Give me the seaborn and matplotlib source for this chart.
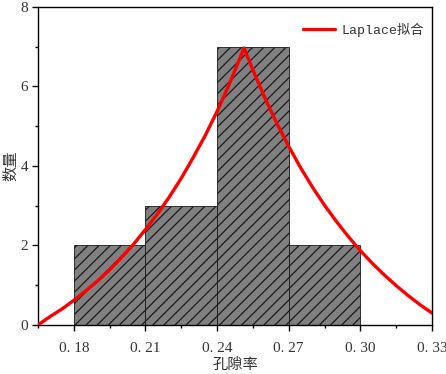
import numpy as np
import pandas as pd
import seaborn as sns
import matplotlib
matplotlib.use("Agg")
import matplotlib.pyplot as plt
from matplotlib.ticker import MultipleLocator, FixedLocator

# Histogram data
bin_edges = [0.18, 0.21, 0.24, 0.27, 0.30]
bin_counts = [2, 3, 7, 2]

# Laplace fit curve
curve_x = [0.165, 0.170, 0.175, 0.180, 0.185, 0.190, 0.195, 0.200, 0.205, 0.210,
           0.215, 0.220, 0.225, 0.230, 0.235, 0.240, 0.245, 0.2513, 0.255, 0.260,
           0.265, 0.270, 0.275, 0.280, 0.285, 0.290, 0.295, 0.300, 0.305, 0.310,
           0.315, 0.320, 0.325, 0.330]
curve_y = [0.00, 0.21, 0.40, 0.62, 0.86, 1.11, 1.39, 1.70, 2.03, 2.40,
           2.79, 3.22, 3.69, 4.21, 4.76, 5.37, 6.04, 6.96, 6.41, 5.71,
           5.07, 4.49, 3.95, 3.46, 3.01, 2.60, 2.22, 1.87, 1.55, 1.26,
           0.99, 0.74, 0.51, 0.30]

x_ticks = [0.18, 0.21, 0.24, 0.27, 0.30, 0.33]
x_tick_labels = ["0. 18", "0. 21", "0. 24", "0. 27", "0. 30", "0. 33"]
y_ticks = [0, 2, 4, 6, 8]

sns.set_style("white")
plt.rcParams['font.family'] = ['Liberation Serif', 'Noto Sans CJK SC', 'DejaVu Sans']
plt.rcParams['hatch.linewidth'] = 0.9
plt.rcParams['hatch.color'] = 'black'

fig = plt.figure(figsize=(4.46, 3.74), dpi=100)
ax = fig.add_axes([0.0852, 0.131, 0.8834, 0.851])

centers = [(bin_edges[i] + bin_edges[i + 1]) / 2 for i in range(len(bin_counts))]
df = pd.DataFrame({"x": centers, "w": bin_counts})
sns.histplot(data=df, x="x", weights="w", bins=bin_edges, ax=ax,
             color="#808080", alpha=1.0, edgecolor="#1a1a1a", linewidth=0.6,
             hatch="///", zorder=2)

cdf = pd.DataFrame({"x": curve_x, "y": curve_y})
sns.lineplot(data=cdf, x="x", y="y", ax=ax, color="#ff0000", linewidth=2.4,
             label="Laplace拟合", zorder=3)

ax.set_xlim(0.165, 0.33)
ax.set_ylim(0, 8)
ax.xaxis.set_major_locator(FixedLocator(x_ticks))
ax.set_xticklabels(x_tick_labels)
ax.xaxis.set_minor_locator(MultipleLocator(0.015))
ax.yaxis.set_major_locator(FixedLocator(y_ticks))
ax.yaxis.set_minor_locator(MultipleLocator(1))
ax.tick_params(which='both', direction='out', bottom=True, left=True,
               top=False, right=False, colors='black', labelsize=11)
ax.tick_params(which='major', length=4, width=1, pad=3)
ax.tick_params(which='minor', length=2.5, width=1)
ax.tick_params(axis='x', which='major', pad=8)
for lab in ax.get_xticklabels() + ax.get_yticklabels():
    lab.set_color('#333333')

for s in ax.spines.values():
    s.set_visible(True)
    s.set_color('black')
    s.set_linewidth(1.0)

ax.set_xlabel("孔隙率", fontsize=11, family=['Noto Sans CJK SC'], labelpad=1, color='#333333')
ax.set_ylabel("数量", fontsize=11, family=['Noto Sans CJK SC'], labelpad=1, color='#333333')

leg = ax.legend(loc='upper right', bbox_to_anchor=(1.0, 0.975), frameon=False,
                fontsize=9.5, handlelength=2.4, handletextpad=0.5, borderaxespad=0.2)
for t in leg.get_texts():
    t.set_family(['Liberation Mono', 'Noto Sans CJK SC'])
    t.set_color('#333333')

fig.savefig("out.png", dpi=100)
